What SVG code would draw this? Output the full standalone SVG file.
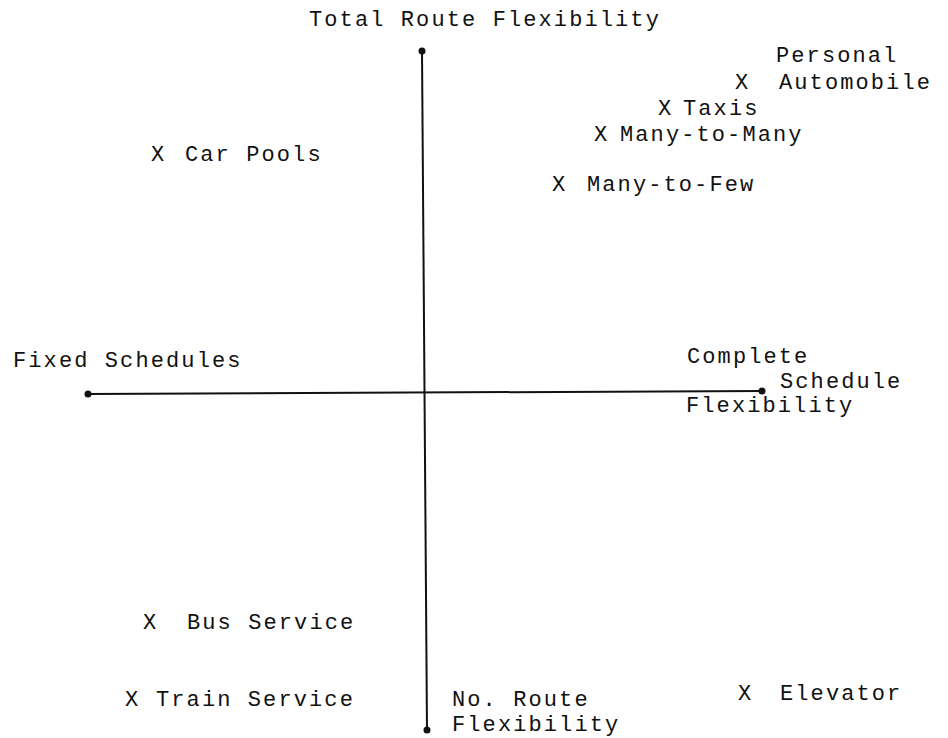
<svg xmlns="http://www.w3.org/2000/svg" width="948" height="738" viewBox="0 0 948 738">
  <style>
    text { font-family: "Liberation Mono", "Courier New", monospace; font-size: 22px; letter-spacing: 2.1px; fill: #111; }
    .axis { stroke: #111; stroke-width: 2; fill: none; }
    .end { fill: #111; }
  </style>
  <rect width="948" height="738" fill="#fff"/>

  <!-- axes -->
  <g id="axes">
    <line class="axis" x1="422" y1="51" x2="427" y2="730"/>
    <line class="axis" x1="88" y1="394" x2="762" y2="391"/>
    <circle class="end" cx="422" cy="51" r="3.5"/>
    <circle class="end" cx="427" cy="730" r="3.5"/>
    <circle class="end" cx="88" cy="394" r="3.5"/>
    <circle class="end" cx="762" cy="391" r="3.5"/>
  </g>

  <!-- axis labels -->
  <g id="label-total-route">
    <text x="309" y="26">Total Route Flexibility</text>
  </g>
  <g id="label-no-route">
    <text x="452" y="706">No. Route</text>
    <text x="452" y="731">Flexibility</text>
  </g>
  <g id="label-fixed">
    <text x="13" y="367">Fixed Schedules</text>
  </g>
  <g id="label-complete">
    <text x="687" y="363">Complete</text>
    <text x="780" y="388">Schedule</text>
    <text x="686" y="412">Flexibility</text>
  </g>

  <!-- plotted services -->
  <g id="personal-automobile">
    <text x="776" y="62">Personal</text>
    <text x="735" y="89">X</text>
    <text x="779" y="89">Automobile</text>
  </g>
  <g id="taxis">
    <text x="658" y="115">X</text>
    <text x="683" y="115">Taxis</text>
  </g>
  <g id="many-to-many">
    <text x="594" y="141">X</text>
    <text x="620" y="141">Many-to-Many</text>
  </g>
  <g id="many-to-few">
    <text x="552" y="191">X</text>
    <text x="587" y="191">Many-to-Few</text>
  </g>
  <g id="car-pools">
    <text x="151" y="161">X</text>
    <text x="185" y="161">Car Pools</text>
  </g>
  <g id="bus-service">
    <text x="143" y="629">X</text>
    <text x="187" y="629">Bus Service</text>
  </g>
  <g id="train-service">
    <text x="125" y="706">X</text>
    <text x="156" y="706">Train Service</text>
  </g>
  <g id="elevator">
    <text x="738" y="700">X</text>
    <text x="780" y="700">Elevator</text>
  </g>
</svg>
